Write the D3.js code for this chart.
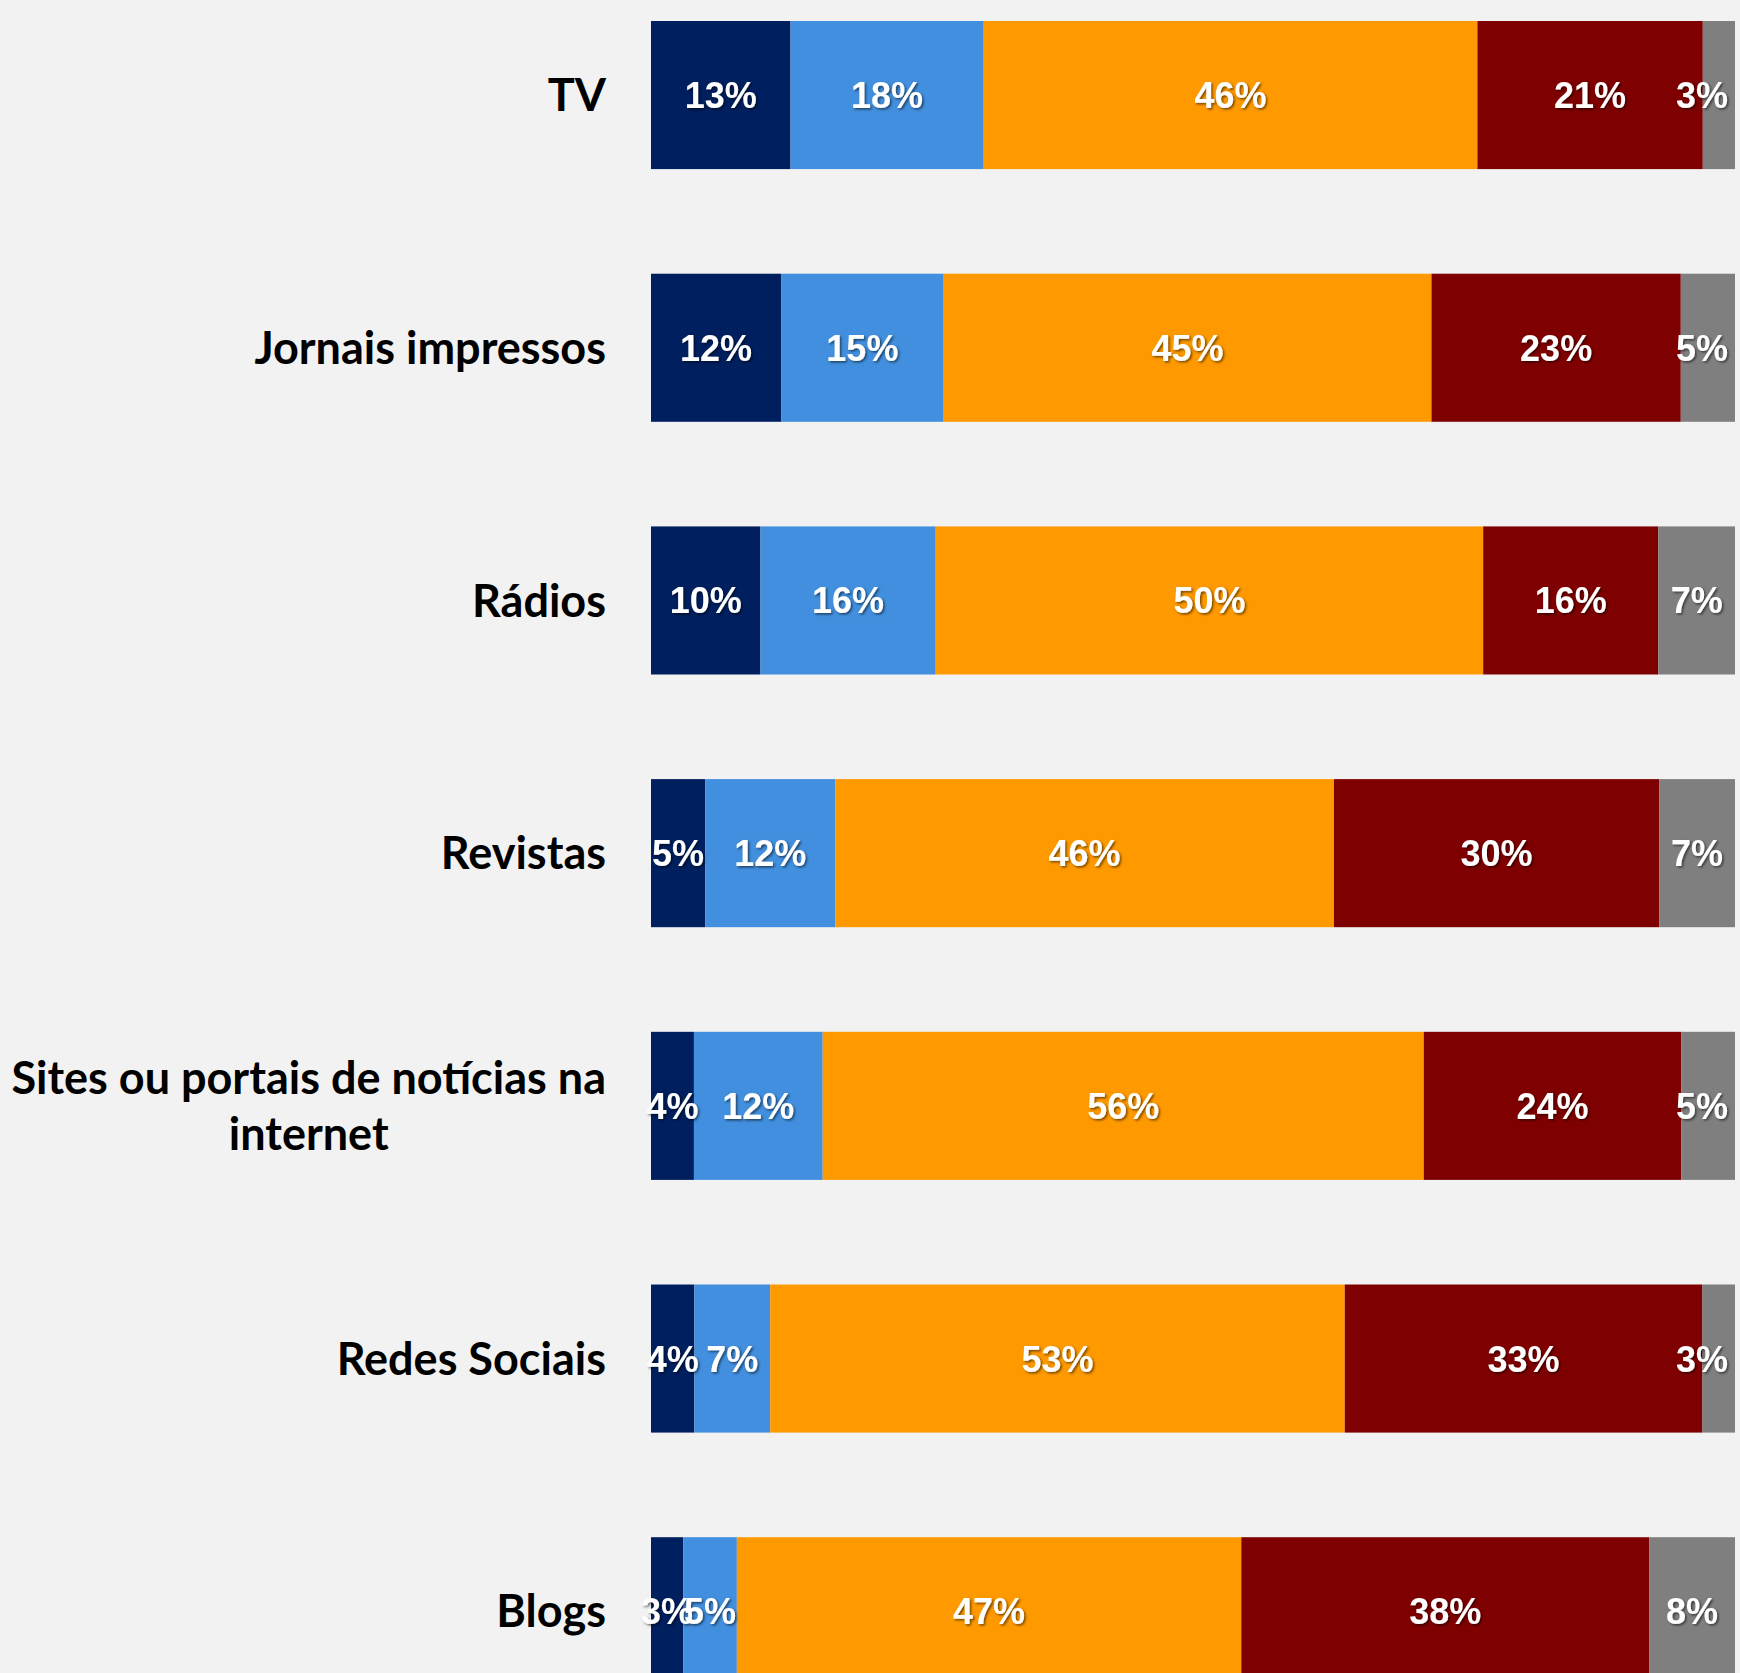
<!DOCTYPE html>
<html>
<head>
<meta charset="utf-8">
<script src="https://cdn.jsdelivr.net/npm/d3@7"></script>
<style>
  html, body { margin: 0; padding: 0; background: #f2f2f2; overflow: hidden; }
  svg { display: block; }
</style>
</head>
<body>
<div id="chart"></div>
<script>
// ---- data ----
const categories = ["TV", "Jornais impressos", "Rádios", "Revistas", "Sites ou portais de notícias na internet", "Redes Sociais", "Blogs"];
const seriesKeys = ["Confia muito", "Confia", "Confia pouco", "Não confia", "NS/NR"];
const confiaMuito = [13, 12, 10, 5, 4, 4, 3];
const confia      = [18, 15, 16, 12, 12, 7, 5];
const confiaPouco = [46, 45, 50, 46, 56, 53, 47];
const naoConfia   = [21, 23, 16, 30, 24, 33, 38];
const nsnr        = [3, 5, 7, 7, 5, 3, 8];
const seriesColors = ["#001f5f", "#418fde", "#ff9900", "#7f0000", "#7f7f7f"];

const seriesValues = [confiaMuito, confia, confiaPouco, naoConfia, nsnr];
const rows = categories.map((c, i) => {
  const o = { category: c };
  seriesKeys.forEach((k, j) => { o[k] = seriesValues[j][i]; });
  return o;
});

// ---- layout ----
const W = 1740, H = 1673;
const svg = d3.select("#chart").append("svg").attr("width", W).attr("height", H);
svg.append("rect").attr("width", W).attr("height", H).attr("fill", "#f2f2f2");

const defs = svg.append("defs");
const f = defs.append("filter").attr("id", "shadow").attr("x", "-20%").attr("y", "-20%").attr("width", "140%").attr("height", "140%");
f.append("feDropShadow").attr("dx", 1.5).attr("dy", 1.5).attr("stdDeviation", 1.2)
  .attr("flood-color", "#000").attr("flood-opacity", 0.55);

const x = d3.scaleLinear().domain([0, 1]).range([651, 1735]);
const y = d3.scaleBand().domain(categories).range([-31.3, 1737.6]).paddingInner(0.414).paddingOuter(0.207);
const color = d3.scaleOrdinal().domain(seriesKeys).range(seriesColors);

const stack = d3.stack().keys(seriesKeys).offset(d3.stackOffsetExpand);
const stacked = stack(rows);

const groups = svg.append("g").selectAll("g").data(stacked).join("g")
  .attr("fill", d => color(d.key));

groups.selectAll("rect").data(d => d.map(p => ({ p, key: d.key }))).join("rect")
  .attr("x", d => x(d.p[0]))
  .attr("y", d => y(d.p.data.category))
  .attr("width", d => x(d.p[1]) - x(d.p[0]))
  .attr("height", y.bandwidth());

// value labels
const labels = svg.append("g").attr("filter", "url(#shadow)");
const rightLimit = 1728;
stacked.forEach(s => {
  s.forEach(p => {
    const t = labels.append("text")
      .attr("y", y(p.data.category) + y.bandwidth() / 2)
      .attr("dy", "0.36em")
      .attr("text-anchor", "middle")
      .attr("fill", "#fff")
      .attr("font-family", "'Liberation Sans', Arial, sans-serif")
      .attr("font-weight", "bold")
      .attr("font-size", 36)
      .text(p.data[s.key] + "%");
    let cx = (x(p[0]) + x(p[1])) / 2;
    const w = t.node().getComputedTextLength();
    if (cx + w / 2 > rightLimit) cx = rightLimit - w / 2;
    t.attr("x", cx);
  });
});

// category labels (y axis, no line/ticks)
const labelX = 606;
const fontSize = 45;
const lineH = 56;
const axis = svg.append("g");
categories.forEach(c => {
  const t = axis.append("text")
    .attr("font-family", "Lato, 'Open Sans', sans-serif")
    .attr("font-weight", "bold")
    .attr("font-size", fontSize)
    .attr("fill", "#000");
  const words = c.split(" ");
  const maxWidth = 610;
  const lines = [];
  let cur = [];
  const probe = t.append("tspan");
  words.forEach(w => {
    const test = cur.concat([w]).join(" ");
    probe.text(test);
    if (probe.node().getComputedTextLength() > maxWidth && cur.length) {
      lines.push(cur.join(" "));
      cur = [w];
    } else cur.push(w);
  });
  lines.push(cur.join(" "));
  probe.remove();
  const widths = lines.map(l => { const s = t.append("tspan").text(l); const wv = s.node().getComputedTextLength(); s.remove(); return wv; });
  const blockW = d3.max(widths);
  const cx = labelX - blockW / 2;
  const cy = y(c) + y.bandwidth() / 2;
  const y0 = cy - (lines.length - 1) * lineH / 2;
  lines.forEach((l, i) => {
    t.append("tspan").attr("x", cx).attr("y", y0 + i * lineH).attr("dy", "0.36em")
      .attr("text-anchor", "middle").text(l);
  });
});
</script>
</body>
</html>
